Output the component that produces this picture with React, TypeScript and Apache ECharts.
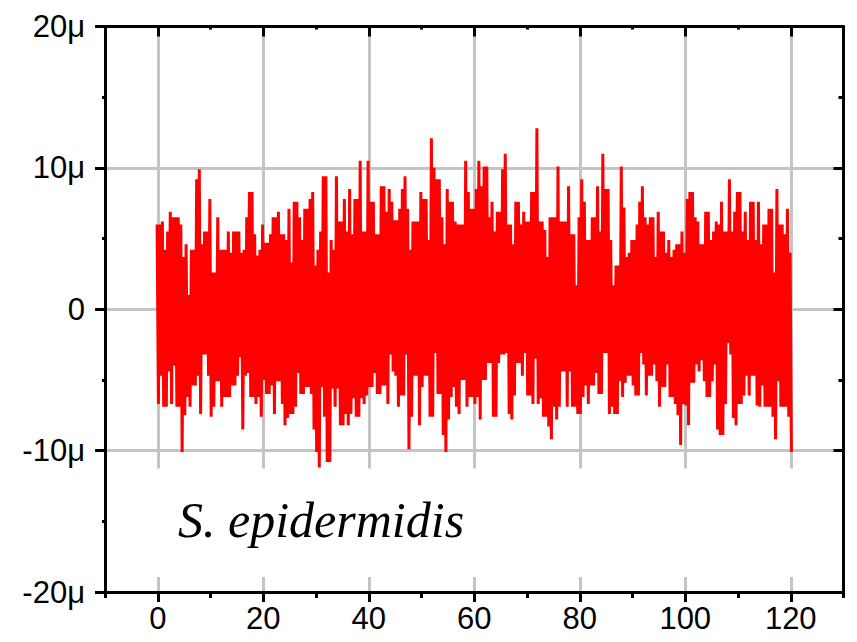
import React, { useEffect, useRef } from "react";
import * as echarts from "echarts";

// Upper and lower excursions of the signal (μ units), one pair every 0.5 time units, t = 0..120
const upper = [
  6.0, 6.0, 6.2, 4.2, 5.5, 6.9, 6.5, 6.5, 6.5, 6.0,
  3.7, 4.6, 1.0, 4.2, 4.2, 9.2, 9.9, 4.6, 5.5, 5.5,
  7.8, 2.6, 2.6, 6.5, 4.2, 4.2, 4.2, 5.5, 4.0, 5.5,
  5.5, 5.5, 4.0, 4.2, 6.5, 8.3, 8.3, 5.3, 3.8, 4.2,
  6.0, 4.7, 4.7, 5.3, 6.5, 6.5, 6.9, 5.3, 5.3, 4.9,
  7.1, 3.3, 7.6, 7.6, 6.5, 4.9, 7.1, 7.1, 7.8, 8.3,
  3.1, 4.2, 5.5, 9.4, 9.4, 2.6, 4.9, 4.2, 9.4, 6.2,
  6.2, 7.8, 5.5, 8.5, 5.3, 7.8, 7.8, 10.5, 5.5, 5.5,
  10.5, 7.6, 7.6, 5.3, 5.3, 8.7, 8.7, 6.9, 8.5, 7.6,
  6.3, 6.3, 7.1, 8.5, 9.4, 7.1, 4.2, 6.2, 6.2, 6.2,
  8.3, 7.8, 7.8, 4.9, 12.1, 10.0, 9.2, 9.2, 6.5, 4.6,
  8.5, 7.6, 7.6, 6.2, 6.0, 6.0, 6.0, 10.5, 8.3, 7.1,
  7.1, 8.5, 10.5, 8.7, 10.1, 10.1, 6.5, 7.6, 5.5, 6.9,
  6.9, 9.9, 11.0, 6.0, 6.0, 4.6, 7.6, 7.6, 6.0, 6.9,
  6.2, 6.2, 8.3, 8.3, 12.8, 6.2, 6.2, 5.6, 3.7, 6.5,
  6.5, 6.5, 10.1, 6.2, 6.2, 6.2, 8.7, 5.3, 5.3, 1.7,
  6.5, 9.2, 7.6, 4.9, 4.9, 6.5, 6.5, 8.7, 5.5, 11.0,
  8.5, 8.5, 4.9, 1.7, 3.1, 3.1, 10.1, 7.2, 3.7, 4.0,
  4.9, 4.9, 6.0, 7.6, 8.7, 6.5, 6.0, 6.5, 6.5, 3.7,
  6.9, 5.5, 5.5, 4.0, 4.9, 3.7, 4.2, 4.6, 4.6, 5.5,
  4.0, 7.8, 8.3, 8.3, 6.5, 6.2, 4.6, 4.6, 6.9, 6.9,
  4.9, 5.5, 6.2, 6.0, 7.6, 5.5, 5.5, 9.2, 5.5, 6.9,
  8.3, 8.3, 5.5, 6.9, 4.9, 7.6, 7.6, 4.9, 7.6, 4.6,
  6.0, 6.0, 7.1, 7.1, 2.6, 8.5, 6.0, 6.0, 5.3, 7.1,
  4.0,
];
const lower = [
  -6.7, -4.7, -6.9, -6.9, -4.4, -6.7, -4.0, -6.9, -6.9, -10.1,
  -7.5, -6.2, -6.9, -5.4, -5.4, -4.7, -7.4, -3.2, -3.2, -4.7,
  -7.6, -6.9, -5.1, -5.1, -6.9, -6.2, -6.2, -6.2, -5.4, -5.4,
  -4.7, -3.4, -8.5, -4.7, -4.5, -6.2, -6.2, -6.7, -6.2, -7.6,
  -5.0, -6.0, -6.0, -5.4, -7.4, -5.1, -5.1, -6.7, -8.2, -7.7,
  -7.4, -7.4, -6.9, -4.5, -6.0, -6.0, -5.5, -5.5, -6.0, -8.5,
  -10.1, -11.2, -5.5, -7.6, -10.8, -10.8, -5.6, -6.9, -5.6, -8.2,
  -8.2, -7.4, -8.2, -7.4, -6.3, -7.6, -7.6, -6.3, -6.7, -6.1,
  -5.5, -5.5, -4.5, -6.0, -6.0, -5.4, -5.4, -6.7, -3.2, -4.4,
  -4.7, -6.9, -6.1, -6.1, -3.2, -9.9, -7.6, -4.7, -4.7, -8.2,
  -5.5, -4.7, -4.7, -7.6, -7.6, -3.1, -6.0, -6.0, -8.9, -10.1,
  -7.8, -6.2, -5.5, -6.9, -7.4, -5.0, -5.0, -6.9, -6.2, -6.2,
  -6.7, -6.2, -7.8, -5.0, -5.0, -3.8, -3.8, -7.6, -7.6, -3.8,
  -3.2, -3.2, -3.1, -7.4, -7.8, -6.1, -3.8, -3.8, -4.7, -3.1,
  -6.1, -6.1, -6.7, -3.5, -6.7, -6.3, -7.6, -7.6, -8.3, -9.2,
  -6.9, -7.8, -6.9, -4.4, -4.4, -6.9, -4.4, -6.9, -6.9, -7.4,
  -7.4, -6.2, -5.4, -6.7, -5.4, -5.4, -4.5, -6.0, -6.0, -3.1,
  -3.1, -7.4, -6.9, -7.4, -7.4, -5.1, -6.2, -5.2, -4.7, -4.7,
  -5.4, -6.1, -6.1, -3.1, -3.9, -6.1, -4.7, -4.7, -3.9, -5.1,
  -6.9, -5.5, -5.5, -3.9, -6.2, -6.2, -6.7, -7.5, -9.6, -6.7,
  -6.8, -8.2, -5.2, -5.2, -3.9, -4.4, -3.6, -5.1, -6.2, -6.2,
  -5.1, -3.9, -8.5, -8.9, -8.9, -6.7, -2.4, -3.2, -7.7, -8.2,
  -6.7, -6.7, -6.1, -4.7, -6.1, -4.7, -4.7, -6.8, -6.9, -5.4,
  -6.9, -6.9, -6.9, -7.6, -9.2, -5.1, -6.9, -6.9, -6.9, -7.6,
  -10.1,
];
const sampleStep = 0.5;

const xMajorTicks = [0, 20, 40, 60, 80, 100, 120];
const yGridValues = [-10, 0, 10];
const xRange = [-10, 130];
const yRange = [-20, 20];
const labelText = "S. epidermidis";

export default function App() {
  const ref = useRef<HTMLDivElement>(null);

  useEffect(() => {
    if (!ref.current) return;
    const chart = echarts.init(ref.current, null, { renderer: "svg" });

    const data: number[][] = [];
    upper.forEach((u, i) => {
      const t = i * sampleStep;
      data.push([t - sampleStep / 4, u]);
      data.push([t + sampleStep / 4, lower[i]]);
    });

    const black = { color: "#000", width: 3 };
    const axisLine = { show: true, onZero: false, lineStyle: black };
    const labelStyle = {
      color: "#000",
      fontSize: 31,
      fontFamily: "'Liberation Sans', Arial, sans-serif",
    };
    const baseX = {
      type: "value",
      min: xRange[0],
      max: xRange[1],
      splitLine: { show: false },
      z: 10,
    };
    const baseY = {
      type: "value",
      min: yRange[0],
      max: yRange[1],
      interval: 10,
      splitLine: { show: false },
      z: 10,
    };

    chart.setOption({
      animation: false,
      grid: { left: 105, right: 13.5, top: 26.5, bottom: 50, containLabel: false },
      xAxis: [
        {
          ...baseX,
          position: "bottom",
          interval: 10,
          axisLine,
          axisTick: { show: true, inside: false, length: 6, lineStyle: black },
          axisLabel: { show: false },
        },
        {
          ...baseX,
          position: "bottom",
          axisLine: { show: false, onZero: false },
          axisTick: { show: true, inside: false, length: 10, customValues: xMajorTicks, lineStyle: black },
          axisLabel: { show: true, customValues: xMajorTicks, margin: 11, ...labelStyle },
        },
        {
          ...baseX,
          position: "top",
          interval: 10,
          axisLine,
          axisTick: { show: true, inside: true, length: 3, lineStyle: black },
          axisLabel: { show: false },
        },
        {
          ...baseX,
          position: "top",
          axisLine: { show: false, onZero: false },
          axisTick: { show: true, inside: true, length: 10, customValues: xMajorTicks, lineStyle: black },
          axisLabel: { show: false },
        },
      ],
      yAxis: [
        {
          ...baseY,
          position: "left",
          axisLine,
          axisTick: { show: true, inside: false, length: 10, lineStyle: black },
          minorTick: { show: true, splitNumber: 2, length: 3, lineStyle: black },
          axisLabel: {
            show: true,
            margin: 20,
            ...labelStyle,
            formatter: (v: number) => (v === 0 ? "0" : `${v}μ`),
          },
        },
        {
          ...baseY,
          position: "right",
          axisLine,
          axisTick: { show: true, inside: true, length: 10, lineStyle: black },
          minorTick: { show: true, splitNumber: 2, length: 5, lineStyle: black },
          axisLabel: { show: false },
        },
      ],
      series: [
        {
          type: "line",
          xAxisIndex: 0,
          yAxisIndex: 0,
          data: [],
          z: 1,
          silent: true,
          markLine: {
            silent: true,
            z: 1,
            symbol: ["none", "none"],
            label: { show: false },
            lineStyle: { color: "#c4c4c4", width: 3, type: "solid" },
            emphasis: { disabled: true },
            data: [
              ...xMajorTicks.map((v) => ({ xAxis: v })),
              ...yGridValues.map((v) => ({ yAxis: v })),
            ],
          },
        },
        {
          type: "line",
          xAxisIndex: 0,
          yAxisIndex: 0,
          data,
          z: 2,
          symbol: "none",
          showSymbol: false,
          lineStyle: { color: "#ff0000", width: 3 },
        },
      ],
      graphic: [
        {
          type: "rect",
          z: 20,
          shape: { x: 107, y: 468.5, width: 735, height: 108.5 },
          style: { fill: "#ffffff" },
          silent: true,
        },
        {
          type: "text",
          z: 21,
          x: 178,
          y: 520,
          style: {
            text: labelText,
            font: "italic 50px 'Liberation Serif', 'Times New Roman', serif",
            fill: "#000",
            textAlign: "left",
            textVerticalAlign: "middle",
          },
        },
      ],
    });

    return () => chart.dispose();
  }, []);

  return <div ref={ref} style={{ width: 857, height: 642, position: "absolute", left: 0, top: 0 }} />;
}
